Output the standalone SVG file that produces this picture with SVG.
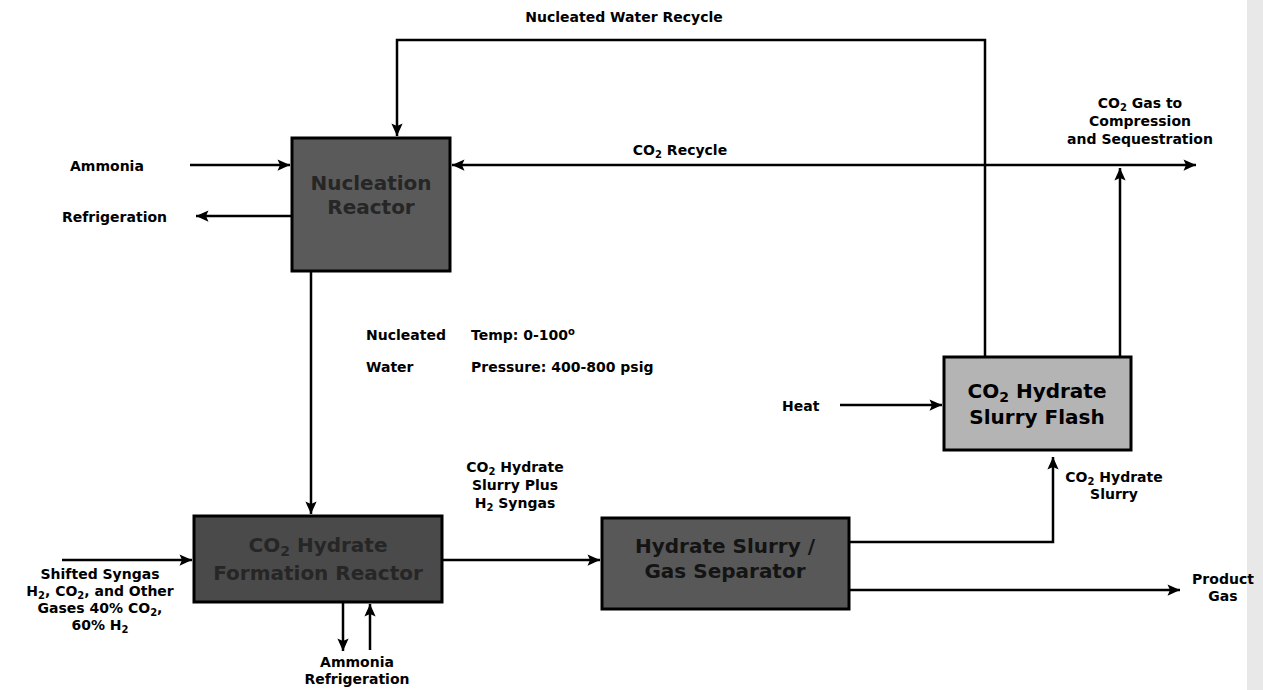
<svg xmlns="http://www.w3.org/2000/svg" width="1263" height="690" viewBox="0 0 1263 690">
<style>
.t{font-family:"DejaVu Sans","Liberation Sans",Arial,sans-serif;font-weight:bold;font-size:14px;fill:#000}
.bt{font-family:"DejaVu Sans","Liberation Sans",Arial,sans-serif;font-weight:bold;font-size:20px;text-anchor:middle}
.ln{stroke:#000;stroke-width:2.5;fill:none}
.box{stroke:#000;stroke-width:3}
</style>
<defs>
<marker id="ah" viewBox="0 0 10 10" refX="10" refY="5" markerWidth="6" markerHeight="5" orient="auto" markerUnits="strokeWidth">
<path d="M0,0.5 L10,5 L0,9.5 L2,5 Z" fill="#000"/>
</marker>
</defs>
<rect width="1263" height="690" fill="#fff"/>
<rect x="1247" y="0" width="16" height="690" fill="#e8e8e8"/>

<g id="connectors">
<line class="ln" x1="190" y1="165" x2="290" y2="165" marker-end="url(#ah)"/>
<line class="ln" x1="292" y1="216" x2="196" y2="216" marker-end="url(#ah)"/>
<line class="ln" x1="311" y1="271" x2="311" y2="514" marker-end="url(#ah)"/>
<line class="ln" x1="62" y1="560" x2="192" y2="560" marker-end="url(#ah)"/>
<line class="ln" x1="343" y1="602" x2="343" y2="651" marker-end="url(#ah)"/>
<line class="ln" x1="370" y1="650" x2="370" y2="604" marker-end="url(#ah)"/>
<line class="ln" x1="442" y1="560" x2="600" y2="560" marker-end="url(#ah)"/>
<polyline class="ln" points="849,542 1053,542 1053,457" marker-end="url(#ah)"/>
<line class="ln" x1="849" y1="590" x2="1180" y2="590" marker-end="url(#ah)"/>
<line class="ln" x1="840" y1="405" x2="942" y2="405" marker-end="url(#ah)"/>
<polyline class="ln" points="985,357 985,40 397,40 397,136" marker-end="url(#ah)"/>
<line class="ln" x1="1120" y1="357" x2="1120" y2="168" marker-end="url(#ah)"/>
<line class="ln" x1="1120" y1="165" x2="452" y2="165" marker-end="url(#ah)"/>
<line class="ln" x1="1120" y1="165" x2="1196" y2="165" marker-end="url(#ah)"/>
</g>

<g id="nucleation-reactor">
<rect class="box" x="292" y="138" width="158" height="133" fill="#5a5a5a"/>
<text class="bt" x="371" y="190" fill="#262626">Nucleation</text>
<text class="bt" x="371" y="214" fill="#262626">Reactor</text>
</g>

<g id="formation-reactor">
<rect class="box" x="194" y="516" width="248" height="86" fill="#4a4a4a"/>
<text class="bt" x="318" y="552" fill="#262626">CO<tspan font-size="14" dy="4">2</tspan><tspan dy="-4"> Hydrate</tspan></text>
<text class="bt" x="318" y="580" fill="#262626">Formation Reactor</text>
</g>

<g id="separator">
<rect class="box" x="602" y="518" width="247" height="91" fill="#585858"/>
<text class="bt" x="725" y="553" fill="#141414">Hydrate Slurry /</text>
<text class="bt" x="725" y="578" fill="#141414">Gas Separator</text>
</g>

<g id="slurry-flash">
<rect class="box" x="944" y="357" width="187" height="93" fill="#b4b4b4"/>
<text class="bt" x="1037" y="398" fill="#000">CO<tspan font-size="14" dy="4">2</tspan><tspan dy="-4"> Hydrate</tspan></text>
<text class="bt" x="1037" y="424" fill="#000">Slurry Flash</text>
</g>

<g id="labels">
<text class="t" x="624" y="22" text-anchor="middle">Nucleated Water Recycle</text>
<text class="t" x="70" y="171">Ammonia</text>
<text class="t" x="62" y="222">Refrigeration</text>
<text class="t" x="680" y="155" text-anchor="middle">CO<tspan font-size="10" dy="3">2</tspan><tspan dy="-3"> Recycle</tspan></text>
<text class="t" x="1140" y="108" text-anchor="middle">CO<tspan font-size="10" dy="3">2</tspan><tspan dy="-3"> Gas to</tspan></text>
<text class="t" x="1140" y="126" text-anchor="middle">Compression</text>
<text class="t" x="1140" y="144" text-anchor="middle">and Sequestration</text>
<text class="t" x="366" y="340">Nucleated</text>
<text class="t" x="471" y="340">Temp:  0-100<tspan font-size="10" dy="-5">o</tspan></text>
<text class="t" x="366" y="372">Water</text>
<text class="t" x="471" y="372">Pressure:  400-800 psig</text>
<text class="t" x="782" y="411">Heat</text>
<text class="t" x="515" y="472" text-anchor="middle">CO<tspan font-size="10" dy="3">2</tspan><tspan dy="-3"> Hydrate</tspan></text>
<text class="t" x="515" y="490" text-anchor="middle">Slurry Plus</text>
<text class="t" x="515" y="508" text-anchor="middle">H<tspan font-size="10" dy="3">2</tspan><tspan dy="-3"> Syngas</tspan></text>
<text class="t" x="1114" y="482" text-anchor="middle">CO<tspan font-size="10" dy="3">2</tspan><tspan dy="-3"> Hydrate</tspan></text>
<text class="t" x="1114" y="499" text-anchor="middle">Slurry</text>
<text class="t" x="1223" y="584" text-anchor="middle">Product</text>
<text class="t" x="1223" y="601" text-anchor="middle">Gas</text>
<text class="t" x="100" y="579" text-anchor="middle">Shifted Syngas</text>
<text class="t" x="100" y="596" text-anchor="middle">H<tspan font-size="10" dy="3">2</tspan><tspan dy="-3">, CO</tspan><tspan font-size="10" dy="3">2</tspan><tspan dy="-3">, and Other</tspan></text>
<text class="t" x="100" y="613" text-anchor="middle">Gases 40% CO<tspan font-size="10" dy="3">2</tspan><tspan dy="-3">,</tspan></text>
<text class="t" x="100" y="630" text-anchor="middle">60% H<tspan font-size="10" dy="3">2</tspan></text>
<text class="t" x="357" y="667" text-anchor="middle">Ammonia</text>
<text class="t" x="357" y="684" text-anchor="middle">Refrigeration</text>
</g>
</svg>
